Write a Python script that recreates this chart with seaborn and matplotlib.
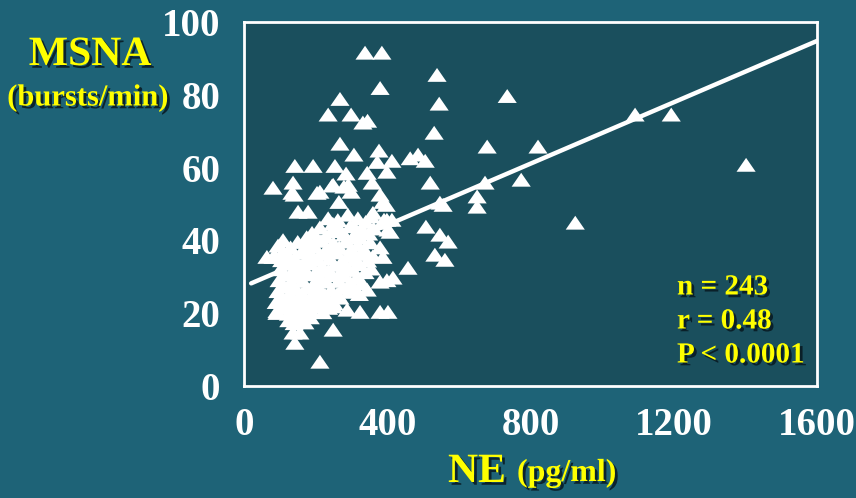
import matplotlib
matplotlib.use("Agg")
import matplotlib.pyplot as plt
import matplotlib.patheffects as pe
from matplotlib.path import Path
import seaborn as sns
import pandas as pd

# ---- data (NE pg/ml, MSNA bursts/min) ----
sparse_ne = [338, 385, 380, 539, 735, 545, 268, 235, 299, 332, 345, 531, 268, 307, 377,
             372, 413, 399, 464, 486, 506, 679, 821, 142, 193, 254, 285, 81, 137, 134,
             212, 249, 291, 358, 520, 547, 651, 651, 774, 673, 151, 179, 380, 388, 265,
             1092, 1193, 1402, 925, 508, 547, 570, 533, 561, 458, 109, 64, 81, 380, 388,
             399, 416, 380, 344, 288, 324, 380, 402, 249, 137, 156, 142, 212, 92,
             399, 408, 388, 402, 360, 140, 204, 246, 279, 299, 397, 391, 413, 344, 556]
sparse_msna = [91.5, 91.5, 81.8, 85.4, 79.6, 77.5, 78.8, 74.5, 74.5, 72.3, 72.8, 69.5, 66.5, 63.5, 64.6,
               61.5, 61.8, 58.8, 62.5, 63.5, 61.8, 65.7, 65.7, 60.4, 60.4, 60.4, 58.3, 54.4, 55.8, 53.0,
               53.3, 55.2, 55.2, 55.8, 55.8, 50.3, 52.0, 49.2, 56.6, 55.8, 47.8, 47.8, 52.5, 50.5, 50.5,
               74.5, 74.5, 60.7, 44.8, 43.7, 41.5, 39.6, 36.0, 34.6, 32.4, 40.0, 35.4, 35.4, 38.0, 35.4,
               29.0, 29.7, 28.6, 26.4, 20.9, 20.3, 20.3, 20.3, 15.4, 14.6, 14.6, 11.8, 6.6, 20.0,
               45.6, 42.3, 44.8, 42.9, 47.5, 52.5, 53.0, 55.0, 54.7, 53.3, 49.7, 45.6, 45.6, 58.5, 49.7]

cluster_ne = [235, 262, 290, 318, 340, 355, 248, 305,
              190, 212, 228, 245, 268, 280, 296, 312, 330, 348, 362, 205, 322,
              130, 150, 168, 182, 198, 215, 232, 250, 266, 284, 300, 318, 335, 352, 110, 95, 175,
              88, 105, 122, 140, 158, 173, 190, 207, 224, 240, 258, 275, 292, 310, 328, 345, 360,
              102, 118, 135, 152, 168, 185, 200, 218, 235, 252, 270, 287, 305, 322, 338, 355,
              98, 115, 130, 147, 163, 180, 196, 213, 230, 247, 264, 280, 297, 314, 330, 110,
              95, 112, 128, 144, 160, 176, 193, 210, 226, 243, 260, 276, 292, 308, 322,
              90, 106, 122, 138, 154, 170, 186, 202, 218, 235, 252, 268, 250,
              92, 108, 124, 140, 156, 172, 188, 204, 220, 236,
              125, 140, 155, 170, 185]
cluster_msna = [46.0, 45.5, 47.0, 46.0, 45.0, 46.5, 44.5, 44.0,
                42.0, 43.5, 41.0, 42.5, 43.0, 41.5, 43.8, 42.0, 43.0, 41.8, 43.2, 40.5, 40.8,
                38.0, 39.5, 37.5, 39.0, 38.2, 39.8, 37.8, 39.2, 38.0, 39.6, 37.6, 38.8, 37.5, 39.4, 37.0, 38.5, 40.8,
                35.5, 34.5, 36.0, 35.0, 36.5, 34.2, 35.8, 34.6, 36.2, 35.0, 36.6, 34.4, 35.8, 34.8, 36.2, 34.4, 35.6,
                32.0, 33.5, 31.5, 33.0, 31.8, 33.6, 31.2, 32.8, 31.6, 33.2, 31.4, 32.6, 31.8, 33.4, 31.2, 32.2,
                29.0, 30.5, 28.4, 30.0, 28.8, 30.6, 28.2, 29.8, 28.6, 30.4, 28.8, 30.2, 28.4, 29.6, 28.2, 27.6,
                26.0, 27.2, 25.4, 26.8, 25.2, 27.0, 25.6, 26.8, 25.0, 26.4, 25.2, 27.0, 25.8, 26.6, 25.2,
                23.0, 24.4, 22.4, 24.0, 22.6, 24.2, 22.8, 24.6, 22.2, 23.8, 22.6, 24.2, 21.8,
                20.5, 21.6, 19.8, 21.2, 20.0, 21.6, 20.4, 21.8, 20.2, 21.4,
                18.0, 17.2, 18.6, 17.4, 18.8]

fit_ne = [20, 1600]
fit_msna = [28.2, 94.8]

x_ticks = [0, 400, 800, 1200, 1600]
y_ticks = [0, 20, 40, 60, 80, 100]
stats_lines = ["n = 243", "r = 0.48", "P < 0.0001"]

df = pd.DataFrame({"NE": sparse_ne + cluster_ne, "MSNA": sparse_msna + cluster_msna})
fit_df = pd.DataFrame({"NE": fit_ne, "MSNA": fit_msna})

# ---- styling ----
outer_bg = "#1e6377"
inner_bg = "#1a4f5d"
yellow = "#ffff00"
serif = ["Liberation Serif", "DejaVu Serif"]

sns.set_theme(style="white")
plt.rcParams["font.family"] = serif

fig = plt.figure(figsize=(8.56, 4.98), dpi=100, facecolor=outer_bg)
ax = fig.add_axes([244 / 856, 1 - 386 / 498, (817 - 244) / 856, (386 - 22) / 498])
ax.set_facecolor(inner_bg)

tri = Path([(-1.0, -0.7), (1.0, -0.7), (0.0, 0.75), (-1.0, -0.7)],
           [Path.MOVETO, Path.LINETO, Path.LINETO, Path.CLOSEPOLY])

sns.scatterplot(data=df, x="NE", y="MSNA", ax=ax, marker=tri, s=190,
                color="white", edgecolor="none", linewidth=0, zorder=3)
sns.lineplot(data=fit_df, x="NE", y="MSNA", ax=ax, color="white", linewidth=3.2,
             zorder=2, solid_capstyle="round")

ax.set_xlim(0, 1600)
ax.set_ylim(0, 100)
ax.set_xticks(x_ticks)
ax.set_yticks(y_ticks)
ax.set_xticklabels([str(v) for v in x_ticks])
ax.set_yticklabels([str(v) for v in y_ticks])
ax.set_xlabel("")
ax.set_ylabel("")
for s in ax.spines.values():
    s.set_color("white")
    s.set_linewidth(2)
    s.set_visible(True)
ax.tick_params(axis="both", direction="out", length=9, width=2, color="white",
               labelcolor="white", labelsize=28)
ax.tick_params(axis="y", pad=8)
ax.tick_params(axis="x", pad=6)
for lab in ax.get_xticklabels() + ax.get_yticklabels():
    lab.set_fontweight("bold")
    lab.set_family(serif)

shadow = [pe.withSimplePatchShadow(offset=(2, -2), shadow_rgbFace="#081820", alpha=0.85)]

fig.text(90 / 856, 1 - 55 / 498, "MSNA", color=yellow, fontsize=30, fontweight="bold",
         ha="center", va="center", family=serif, path_effects=shadow)
fig.text(88 / 856, 1 - 98 / 498, "(bursts/min)", color=yellow, fontsize=22, fontweight="bold",
         ha="center", va="center", family=serif, path_effects=shadow)
fig.text(448 / 856, 1 - 482 / 498, "NE", color=yellow, fontsize=30, fontweight="bold",
         ha="left", va="baseline", family=serif, path_effects=shadow)
fig.text(517 / 856, 1 - 481 / 498, "(pg/ml)", color=yellow, fontsize=23, fontweight="bold",
         ha="left", va="baseline", family=serif, path_effects=shadow)

for i, line in enumerate(stats_lines):
    fig.text(677 / 856, 1 - (287 + 34 * i) / 498, line, color=yellow, fontsize=21,
             fontweight="bold", ha="left", va="center", family=serif, path_effects=shadow)

fig.savefig("out.png", dpi=100, facecolor=outer_bg)
